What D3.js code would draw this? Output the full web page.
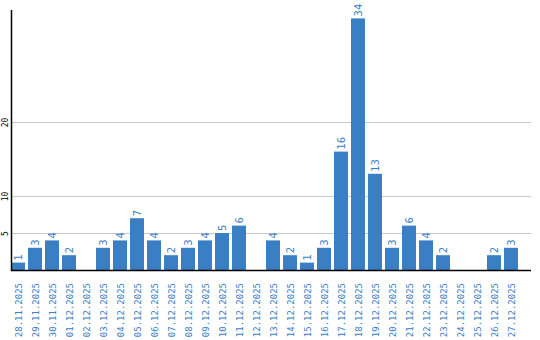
<!DOCTYPE html>
<html>
<head>
<meta charset="utf-8">
<script src="https://cdn.jsdelivr.net/npm/d3@7"></script>
<style>
  body { margin: 0; background: #fff; }
  svg { display: block; }
</style>
</head>
<body>
<svg id="chart"></svg>
<script>
const width = 540;
const height = 340;
const barColor = '#3a7ec4';

// dates and counts
const dates = ['28.11.2025', '29.11.2025', '30.11.2025', '01.12.2025', '02.12.2025',
  '03.12.2025', '04.12.2025', '05.12.2025', '06.12.2025', '07.12.2025',
  '08.12.2025', '09.12.2025', '10.12.2025', '11.12.2025', '12.12.2025',
  '13.12.2025', '14.12.2025', '15.12.2025', '16.12.2025', '17.12.2025',
  '18.12.2025', '19.12.2025', '20.12.2025', '21.12.2025', '22.12.2025',
  '23.12.2025', '24.12.2025', '25.12.2025', '26.12.2025', '27.12.2025'];
const counts = [1, 3, 4, 2, 0, 3, 4, 7, 4, 2, 3, 4, 5, 6, 0, 4, 2, 1, 3, 16, 34, 13, 3, 6, 4, 2, 0, 0, 2, 3];
const yTicks = [5, 10, 20];

const plotLeft = 11, plotRight = 531, plotBase = 270, plotTop = 11;

const svg = d3.select('#chart')
  .attr('width', width)
  .attr('height', height);

const x = d3.scaleBand()
  .domain(dates)
  .range([plotLeft, 518])
  .paddingInner(3 / 17)
  .paddingOuter(0);

const y = d3.scaleLinear()
  .domain([0, 35])
  .range([plotBase, plotTop]);

// grid lines
svg.append('g')
  .selectAll('line')
  .data(yTicks)
  .join('line')
  .attr('x1', plotLeft)
  .attr('x2', plotRight)
  .attr('y1', d => Math.round(y(d)) + 0.5)
  .attr('y2', d => Math.round(y(d)) + 0.5)
  .attr('stroke', '#c8c8c8')
  .attr('stroke-width', 1);

// bars
svg.append('g')
  .selectAll('rect')
  .data(counts)
  .join('rect')
  .attr('x', (d, i) => x(dates[i]))
  .attr('y', d => y(d))
  .attr('width', x.bandwidth())
  .attr('height', d => plotBase - y(d))
  .attr('fill', barColor);

// value labels, rotated
svg.append('g')
  .selectAll('text')
  .data(counts.map((d, i) => ({ v: d, k: dates[i] })).filter(d => d.v > 0))
  .join('text')
  .attr('transform', d => `translate(${x(d.k) + x.bandwidth() / 2 + 4},${y(d.v) - 2}) rotate(-90)`)
  .attr('text-anchor', 'start')
  .attr('font-family', 'DejaVu Sans')
  .attr('font-size', 10)
  .attr('fill', barColor)
  .text(d => d.v);

// y axis, labels turned on their side
const yAxis = svg.append('g')
  .attr('transform', `translate(${plotLeft},0)`)
  .call(d3.axisLeft(y).tickValues(yTicks).tickSize(0).tickPadding(0));
yAxis.select('.domain').remove();
yAxis.selectAll('text')
  .attr('x', 0)
  .attr('dy', 0)
  .attr('transform', 'translate(-3,0) rotate(-90)')
  .attr('text-anchor', 'middle')
  .attr('font-family', 'DejaVu Sans Mono')
  .attr('font-size', 8)
  .attr('fill', '#000');

// x axis labels
const xAxis = svg.append('g')
  .attr('transform', `translate(0,${plotBase})`)
  .call(d3.axisBottom(x).tickSize(0).tickPadding(0));
xAxis.select('.domain').remove();
xAxis.selectAll('text')
  .attr('transform', 'translate(4,13) rotate(-90)')
  .attr('y', 0)
  .attr('dy', 0)
  .attr('text-anchor', 'end')
  .attr('font-family', 'DejaVu Sans Mono')
  .attr('font-size', 9)
  .attr('fill', barColor);

// axis lines
svg.append('line')
  .attr('x1', plotLeft + 0.5).attr('x2', plotLeft + 0.5)
  .attr('y1', 10).attr('y2', plotBase + 1)
  .attr('stroke', '#000').attr('stroke-width', 1.5);
svg.append('line')
  .attr('x1', plotLeft).attr('x2', plotRight)
  .attr('y1', plotBase + 0.5).attr('y2', plotBase + 0.5)
  .attr('stroke', '#000').attr('stroke-width', 1.5);
</script>
</body>
</html>
